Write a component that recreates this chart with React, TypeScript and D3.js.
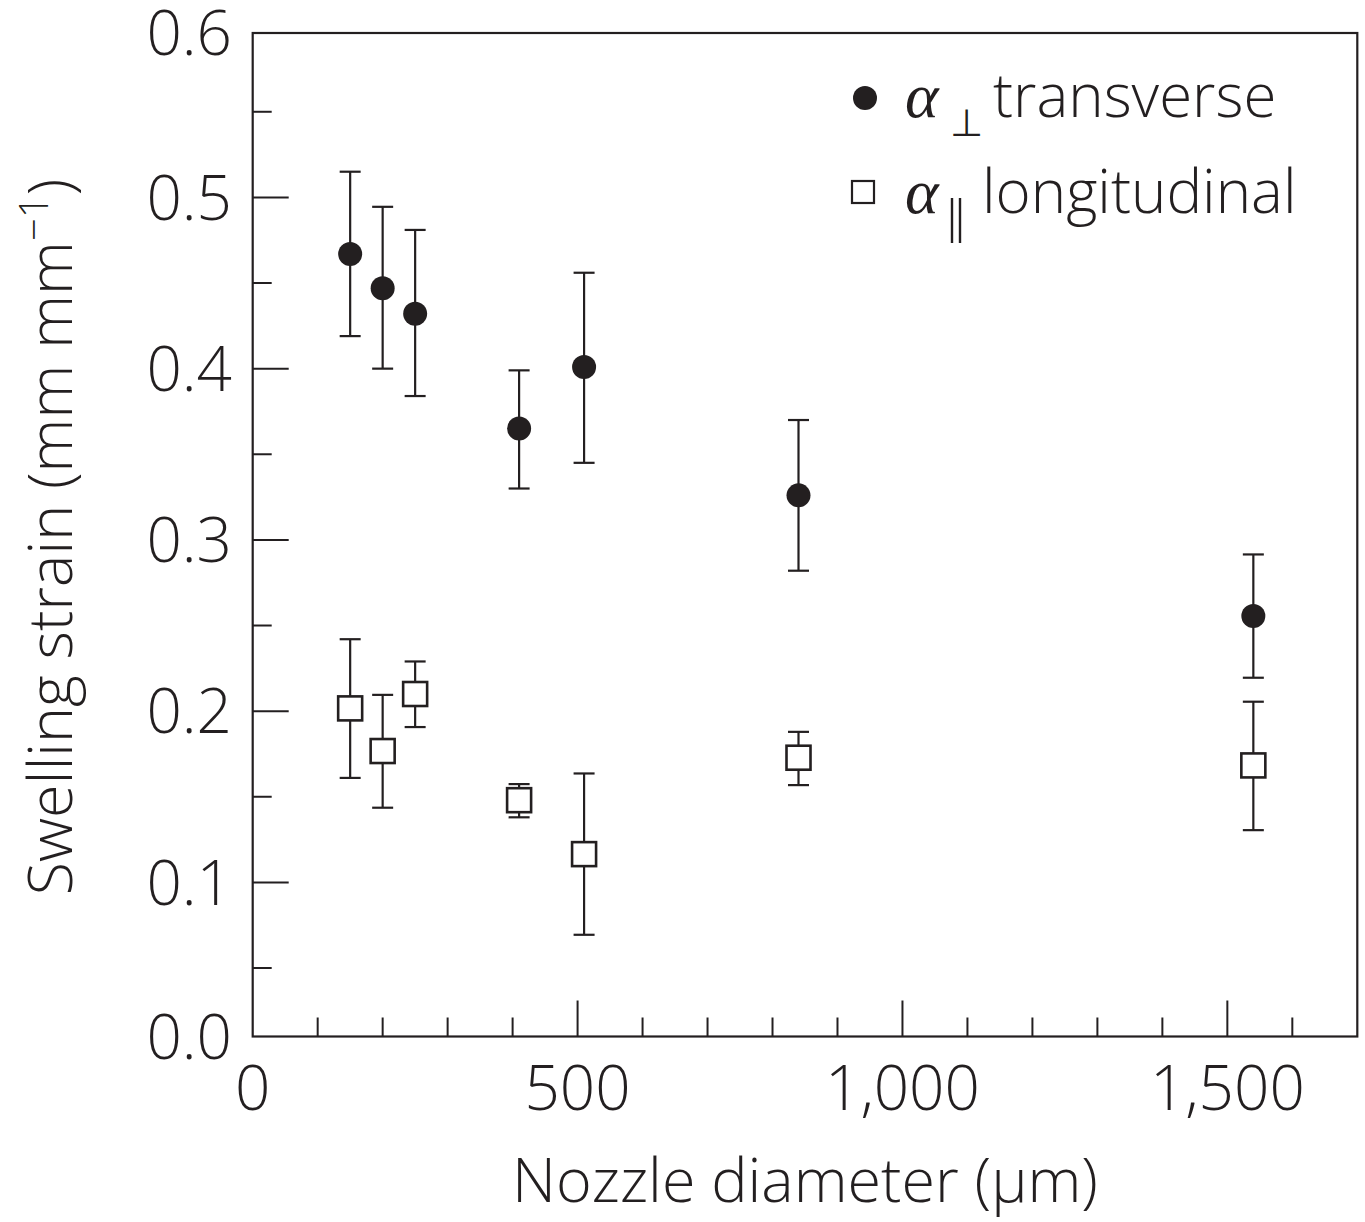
import React from 'react';
import * as d3 from 'd3';

// Nozzle diameter (µm)
const diameters = [150, 200, 250, 410, 510, 840, 1540];
// α⊥ transverse
const transverse = [0.467, 0.447, 0.432, 0.365, 0.401, 0.326, 0.2555];
const transverseLow = [0.419, 0.4, 0.384, 0.33, 0.345, 0.282, 0.2195];
const transverseHigh = [0.515, 0.4945, 0.481, 0.399, 0.456, 0.37, 0.2915];
// α∥ longitudinal
const longitudinal = [0.2016, 0.1767, 0.21, 0.148, 0.1165, 0.1728, 0.1683];
const longitudinalLow = [0.161, 0.1436, 0.1907, 0.138, 0.0694, 0.1568, 0.1305];
const longitudinalHigh = [0.242, 0.2095, 0.229, 0.1574, 0.1636, 0.1879, 0.2055];

const xDomain = [0, 1700];
const xMajorTicks = [0, 500, 1000, 1500];
const xTickLabels = ['0', '500', '1,000', '1,500'];
const xMinorTicks = [100, 200, 300, 400, 600, 700, 800, 900, 1100, 1200, 1300, 1400, 1600];

// frame limits of the original figure (labelled 0.0 and 0.6)
const yDomain = [0.01, 0.596];
const yLabelValues = [0.01, 0.1, 0.2, 0.3, 0.4, 0.5, 0.596];
const yTickLabels = ['0.0', '0.1', '0.2', '0.3', '0.4', '0.5', '0.6'];
const yMajorTicks = [0.1, 0.2, 0.3, 0.4, 0.5];
const yMinorTicks = [0.05, 0.15, 0.25, 0.35, 0.45, 0.55];

const INK = '#231f20';
const FONT = "'Open Sans', 'Noto Sans', sans-serif";

export default function App() {
  const W = 1365;
  const H = 1222;
  const left = 252.7, right = 1357.3, top = 33, bottom = 1036.5;
  const x = d3.scaleLinear().domain(xDomain).range([left, right]);
  const y = d3.scaleLinear().domain(yDomain).range([bottom, top]);
  const majorLen = 36;
  const minorLen = 19;
  const capW = 21;
  const r = 12;
  const sq = 24;

  const errBar = (xi: number, lo: number, hi: number, key: string) => (
    <g key={key} stroke={INK} strokeWidth={2.2}>
      <line x1={x(xi)} x2={x(xi)} y1={y(lo)} y2={y(hi)} />
      <line x1={x(xi) - capW / 2} x2={x(xi) + capW / 2} y1={y(lo)} y2={y(lo)} />
      <line x1={x(xi) - capW / 2} x2={x(xi) + capW / 2} y1={y(hi)} y2={y(hi)} />
    </g>
  );

  return (
    <svg
      width={W}
      height={H}
      style={{ position: 'absolute', left: 0, top: 0, background: '#fff' }}
      fontFamily={FONT}
    >
      <rect x={0} y={0} width={W} height={H} fill="#fff" />
      {/* frame */}
      <rect x={left} y={top} width={right - left} height={bottom - top} fill="none" stroke={INK} strokeWidth={2.2} />
      {/* x ticks */}
      {xMajorTicks.filter((v) => v > 0).map((v) => (
        <line key={'xM' + v} x1={x(v)} x2={x(v)} y1={bottom} y2={bottom - majorLen} stroke={INK} strokeWidth={2} />
      ))}
      {xMinorTicks.map((v) => (
        <line key={'xm' + v} x1={x(v)} x2={x(v)} y1={bottom} y2={bottom - minorLen} stroke={INK} strokeWidth={2} />
      ))}
      {/* y ticks */}
      {yMajorTicks.map((v) => (
        <line key={'yM' + v} x1={left} x2={left + majorLen} y1={y(v)} y2={y(v)} stroke={INK} strokeWidth={2} />
      ))}
      {yMinorTicks.map((v) => (
        <line key={'ym' + v} x1={left} x2={left + minorLen} y1={y(v)} y2={y(v)} stroke={INK} strokeWidth={2} />
      ))}
      {/* tick labels */}
      {xMajorTicks.map((v, i) => (
        <text key={'xl' + v} x={x(v)} y={1110} textAnchor="middle" fontSize={62} fill={INK} fontWeight={300}>
          {xTickLabels[i]}
        </text>
      ))}
      {yLabelValues.map((v, i) => (
        <text key={'yl' + i} x={232} y={y(v)} dy="0.36em" textAnchor="end" fontSize={62} fill={INK} fontWeight={300}>
          {yTickLabels[i]}
        </text>
      ))}
      {/* axis titles */}
      <text x={805} y={1202} textAnchor="middle" fontSize={61} fill={INK} fontWeight={300}>
        Nozzle diameter (μm)
      </text>
      <text transform="translate(72,537) rotate(-90)" textAnchor="middle" fontSize={61} fill={INK} fontWeight={300}>
        Swelling strain (mm mm
        <tspan dy={-24} fontSize={40}>−1</tspan>
        <tspan dy={24}>)</tspan>
      </text>
      {/* error bars */}
      {diameters.map((d, i) => errBar(d, transverseLow[i], transverseHigh[i], 't' + i))}
      {diameters.map((d, i) => errBar(d, longitudinalLow[i], longitudinalHigh[i], 'l' + i))}
      {/* markers */}
      {diameters.map((d, i) => (
        <circle key={'c' + i} cx={x(d)} cy={y(transverse[i])} r={r} fill={INK} />
      ))}
      {diameters.map((d, i) => (
        <rect
          key={'s' + i}
          x={x(d) - sq / 2}
          y={y(longitudinal[i]) - sq / 2}
          width={sq}
          height={sq}
          fill="#fff"
          stroke={INK}
          strokeWidth={2.6}
        />
      ))}
      {/* legend */}
      <g fill={INK}>
        <circle cx={865} cy={98} r={12} />
        <text x={905} y={117} fontSize={64} fontStyle="italic" fontFamily="'Liberation Serif', 'DejaVu Serif', serif">α</text>
        <text x={950} y={136} fontSize={38} fontFamily="'DejaVu Sans', sans-serif">⊥</text>
        <text x={993} y={117} fontSize={60} fontWeight={300}>transverse</text>
        <rect x={852} y={181} width={22} height={22} fill="#fff" stroke={INK} strokeWidth={2.2} />
        <text x={905} y={213} fontSize={64} fontStyle="italic" fontFamily="'Liberation Serif', 'DejaVu Serif', serif">α</text>
        <line x1={952} x2={952} y1={198} y2={243} stroke={INK} strokeWidth={2.4} />
        <line x1={960} x2={960} y1={198} y2={243} stroke={INK} strokeWidth={2.4} />
        <text x={982} y={213} fontSize={60} fontWeight={300}>longitudinal</text>
      </g>
    </svg>
  );
}
